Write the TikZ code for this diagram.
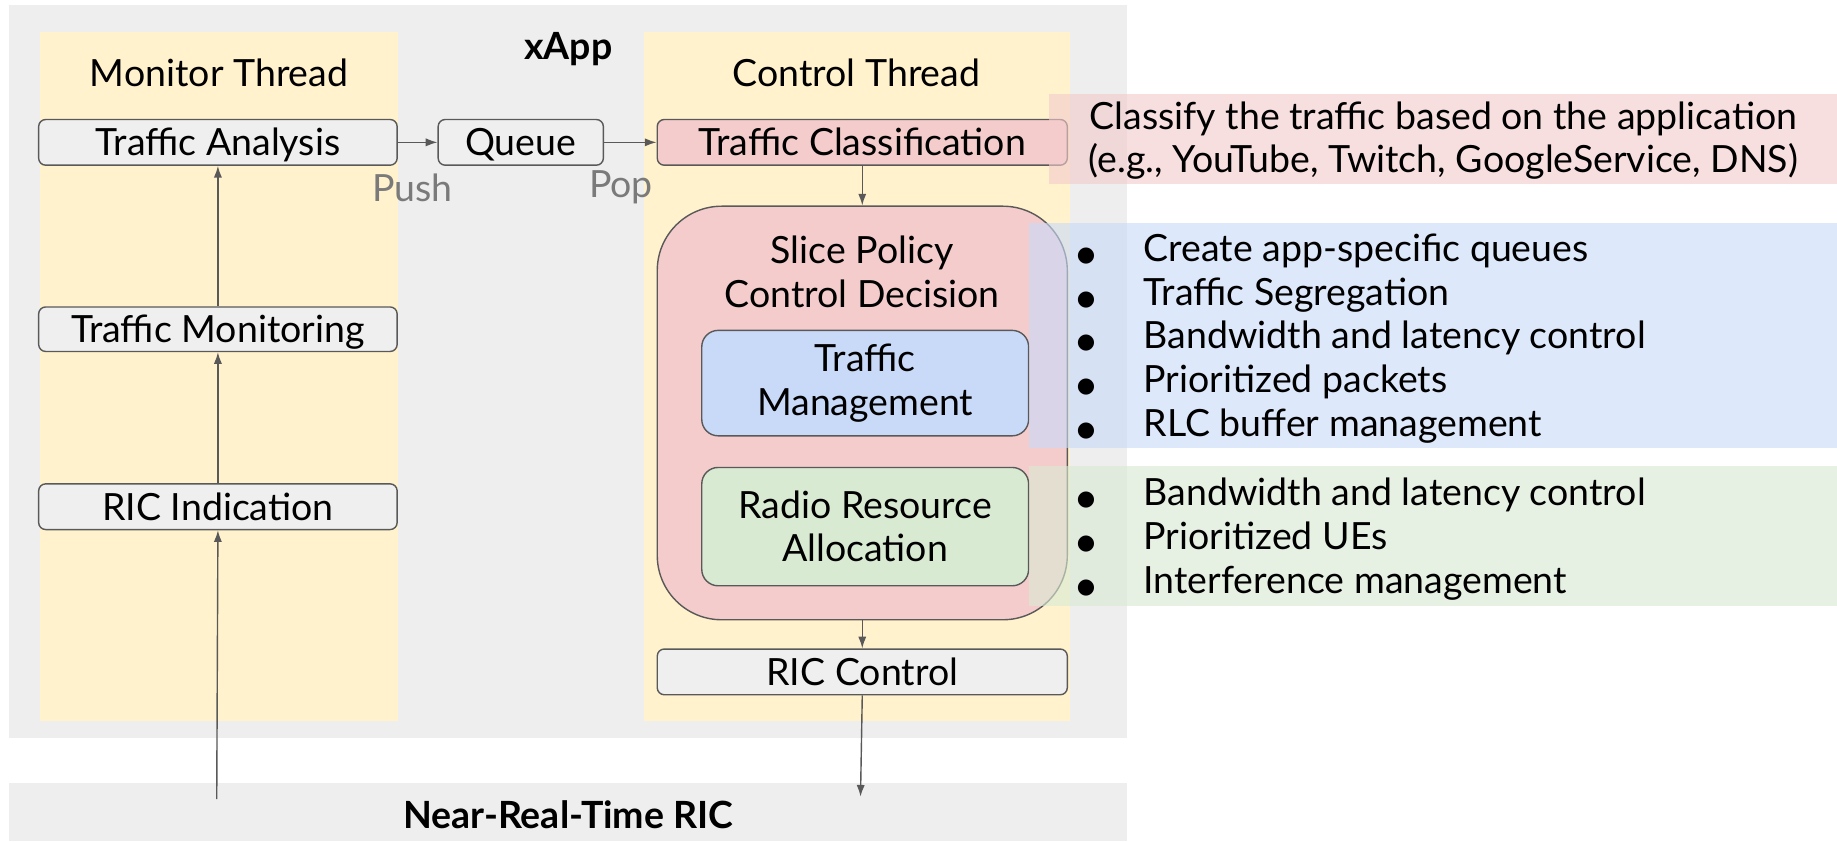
\documentclass[tikz,border=0pt]{standalone}
\usepackage{fontspec}
\setmainfont{Lato}
\newfontfamily\dejavu{DejaVu Sans}
\usetikzlibrary{arrows.meta}
\definecolor{bggray}{HTML}{EEEEEE}
\definecolor{threadc}{HTML}{FFF2CC}
\definecolor{boxgray}{HTML}{EFEFEF}
\definecolor{pinkc}{HTML}{F4CCCC}
\definecolor{bluec}{HTML}{C9DAF8}
\definecolor{greenc}{HTML}{D9EAD3}
\definecolor{edgec}{HTML}{595959}
\definecolor{lblc}{HTML}{7A7A7A}
\newcommand{\bul}{\makebox[57pt][l]{\dejavu\fontsize{18}{18}\selectfont ●}}
\begin{document}
\begin{tikzpicture}[x=1pt,y=-1pt,
  font=\fontsize{32}{37}\selectfont,
  capc/.style={text height=23pt, text depth=0pt},
  stepbox/.style={capc, draw=edgec, line width=1.2pt, rounded corners=6pt, fill=boxgray, inner sep=0pt, minimum width=306pt, minimum height=39pt},
  wideboxx/.style={stepbox, minimum width=350pt},
  arr/.style={draw=edgec, line width=1.2pt, -{Latex[length=10pt,width=7pt]}},
  note/.style={fill opacity=0.62, draw=none},
  lbl/.style={text=lblc, inner sep=0pt}]
\useasboundingbox (0,0) rectangle (1568,718);
\fill[white] (0,0) rectangle (1568,718);
% backgrounds
\fill[bggray] (8,4) rectangle (962,630);
\fill[bggray] (8,668) rectangle (962,718);
\fill[threadc] (34,27) rectangle (340,615);
\fill[threadc] (550,27) rectangle (913,615);
\node[font=\fontsize{32}{37}\selectfont\bfseries] (xapp) at (485,42) {xApp};
\node[font=\fontsize{32}{37}\selectfont\bfseries] (nrt) at (485,695) {Near-Real-Time RIC};
\node (mt) at (187,62) {Monitor Thread};
\node (ct) at (731,62) {Control Thread};
% boxes
\node[stepbox] (ta) at (186,121.5) {Traffic Analysis};
\node[stepbox, minimum width=141pt] (q) at (444.5,121.5) {Queue};
\node[wideboxx, fill=pinkc] (tc) at (736,121.5) {Traffic Classification};
\node[stepbox, minimum height=38pt] (tm) at (186,281) {Traffic Monitoring};
\node[stepbox] (ind) at (186,432.5) {RIC Indication};
\node[draw=edgec, line width=1.2pt, fill=pinkc, rounded corners=55pt, minimum width=350pt, minimum height=353pt, inner sep=0pt] (sp) at (736,352.5) {};
\node[align=center] (spt) at (736,232) {Slice Policy\\Control Decision};
\node[draw=edgec, line width=1.2pt, fill=bluec, rounded corners=14pt, minimum width=279pt, minimum height=90pt, inner sep=0pt, align=center] (tmg) at (738.5,327) {Traffic\\Management};
\node[draw=edgec, line width=1.2pt, fill=greenc, rounded corners=14pt, minimum width=279pt, minimum height=101pt, inner sep=0pt, align=center] (rra) at (738.5,449.5) {Radio Resource\\Allocation};
\node[wideboxx] (rc) at (736,573.5) {RIC Control};
% labels
\node[lbl] (push) at (352,160) {Push};
\node[lbl] (pop) at (530,160) {Pop};
% connectors
\coordinate (src) at (185,682);
\coordinate (dst) at (734.5,680);
\draw[arr] (src) -- (ind.south);
\draw[arr] (ind.north) -- (tm.south);
\draw[arr] (tm.north) -- (ta.south);
\draw[arr] (ta.east) -- (q.west);
\draw[arr] (q.east) -- (tc.west);
\draw[arr] (tc.south) -- (sp.north);
\draw[arr] (sp.south) -- (rc.north);
\draw[arr] (rc.south) -- (dst);
% annotations
\fill[pinkc, note] (895,80) rectangle (1568,157);
\fill[bluec, note] (878,190) rectangle (1568,382);
\fill[greenc, note] (878,398) rectangle (1568,517);
\node[align=center, inner sep=0pt] (cls) at (1232,120) {Classify the traffic based on the application\\(e.g., YouTube, Twitch, GoogleService, DNS)};
\node[anchor=west, align=left, inner sep=0pt, font=\fontsize{32}{37.3}\selectfont] (bl) at (919,289) {\bul Create app-specific queues\\\bul Traffic Segregation\\\bul Bandwidth and latency control\\\bul Prioritized packets\\\bul RLC buffer management};
\node[anchor=west, align=left, inner sep=0pt, font=\fontsize{32}{37.3}\selectfont] (gl) at (919,460) {\bul Bandwidth and latency control\\\bul Prioritized UEs\\\bul Interference management};
\end{tikzpicture}
\end{document}
